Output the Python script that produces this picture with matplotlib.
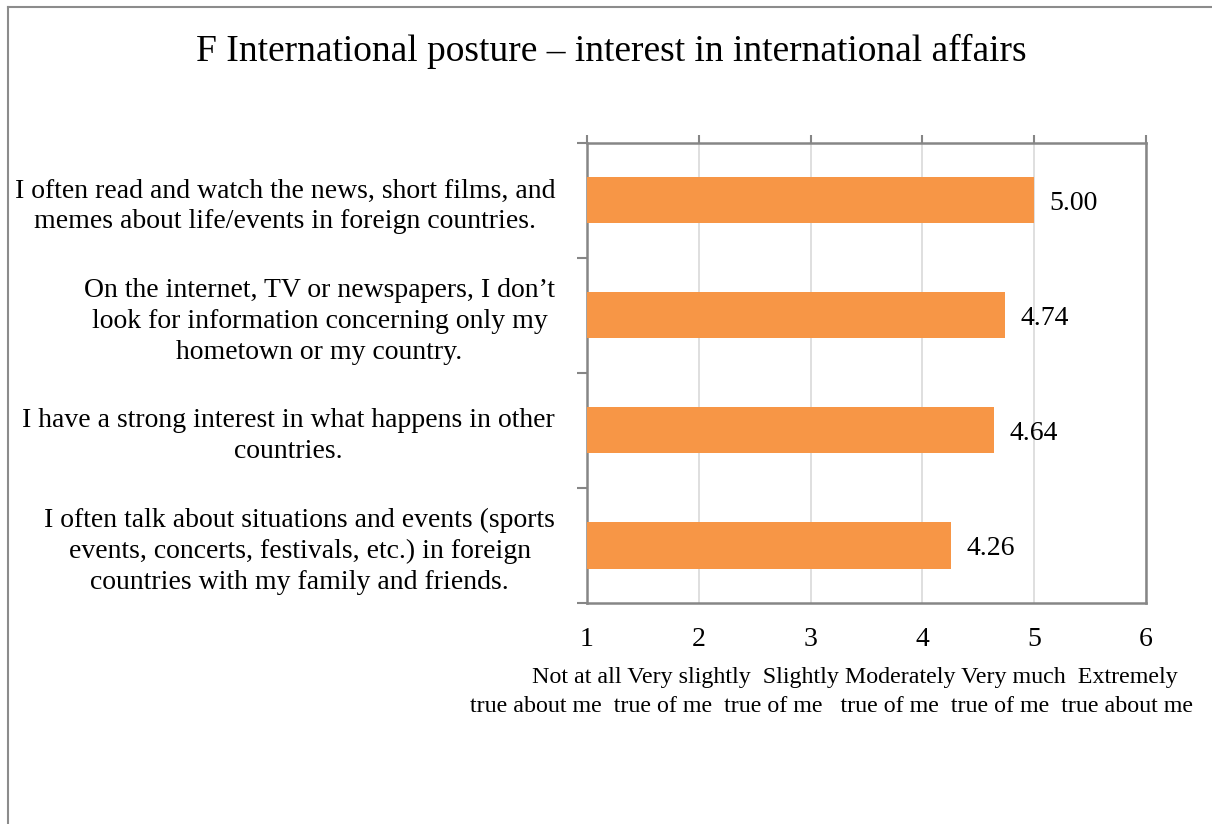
import matplotlib.pyplot as plt
from matplotlib.lines import Line2D

plt.rcParams['font.family'] = ['Liberation Serif', 'DejaVu Serif']

# Survey items and mean scores
statements = [
    'I often read and watch the news, short films, and\nmemes about life/events in foreign countries.',
    'On the internet, TV or newspapers, I don\u2019t\nlook for information concerning only my\nhometown or my country.',
    'I have a strong interest in what happens in other\ncountries.',
    'I often talk about situations and events (sports\nevents, concerts, festivals, etc.) in foreign\ncountries with my family and friends.',
]
means = [5.00, 4.74, 4.64, 4.26]
scale_ticks = [1, 2, 3, 4, 5, 6]
scale_line1 = 'Not at all Very slightly  Slightly Moderately Very much  Extremely'
scale_line2 = 'true about me  true of me  true of me   true of me  true of me  true about me'

bar_color = '#F79646'
axis_gray = '#868686'

fig = plt.figure(figsize=(12.12, 8.24), dpi=100)
ax = fig.add_axes([0.4843, 0.2682, 0.9455 - 0.4843, 0.8265 - 0.2682])

pos = list(range(len(statements)))
ax.barh(pos, [m - 1 for m in means], left=1, height=0.4, color=bar_color, zorder=3)
for y, m in zip(pos, means):
    ax.annotate(f'{m:.2f}', xy=(m, y), xytext=(11, -2.5), textcoords='offset points',
                ha='left', va='center', fontsize=20)

ax.set_xlim(1, 6)
ax.set_ylim(len(statements) - 0.5, -0.5)
ax.set_xticks(scale_ticks)
ax.set_xticklabels([str(t) for t in scale_ticks], fontsize=20)
ax.tick_params(axis='x', bottom=False, top=True, labelbottom=True, labeltop=False,
               length=6, width=1.5, color=axis_gray, pad=11)
ax.grid(axis='x', color='#D9D9D9', linewidth=1.2, zorder=0)

ax.set_yticks(pos)
ax.set_yticklabels(statements, fontsize=20, multialignment='center', linespacing=1.3)
ax.set_yticks([p - 0.5 for p in pos] + [len(pos) - 0.5], minor=True)
ax.tick_params(axis='y', which='major', length=0, pad=23)
ax.tick_params(axis='y', which='minor', length=7, width=1.5, color=axis_gray)

for s in ax.spines.values():
    s.set_color(axis_gray)
    s.set_linewidth(1.8)

fig.text(0.5045, 1 - 51 / 824, 'F International posture \u2013 interest in international affairs',
         ha='center', va='center', fontsize=27)
fig.text(855 / 1212, 1 - 677 / 824, scale_line1, ha='center', va='center', fontsize=17.3)
fig.text(831 / 1212, 1 - 706 / 824, scale_line2, ha='center', va='center', fontsize=17.3)

# outer frame, top and left edges
fig.add_artist(Line2D([8 / 1212, 1], [1 - 7 / 824, 1 - 7 / 824], color='#8C8C8C', linewidth=1.5))
fig.add_artist(Line2D([8 / 1212, 8 / 1212], [0, 1 - 7 / 824], color='#8C8C8C', linewidth=1.5))

fig.savefig('out.png', dpi=100)
